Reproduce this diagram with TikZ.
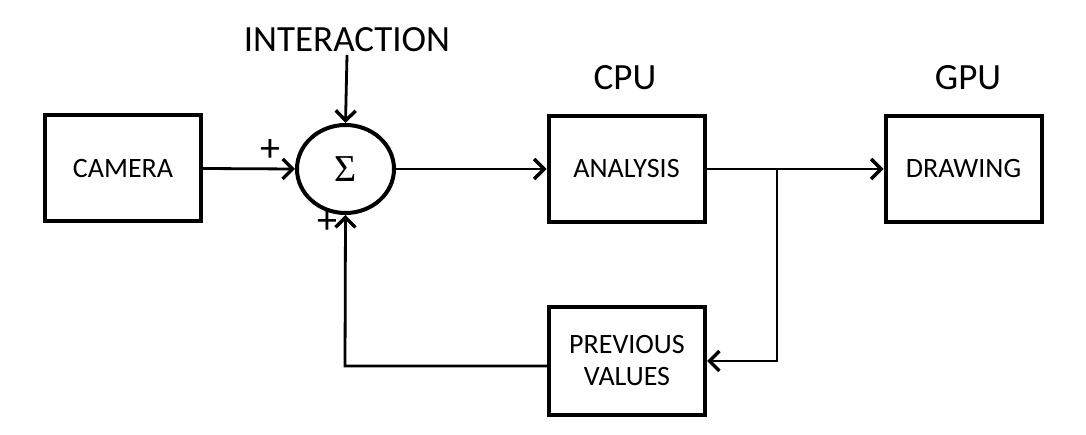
\documentclass[tikz,border=0pt]{standalone}
\usepackage{fontspec}
\setmainfont{Carlito}
\newfontfamily\sigmafont{Liberation Serif}
\usetikzlibrary{arrows.meta,shapes.geometric,calc}
\tikzset{
  blk/.style={draw, line width=4pt, minimum width=156pt, minimum height=106pt, align=center, font=\fontsize{28}{34}\selectfont, inner sep=0pt},
  conn/.style={line width=2.8pt, -{Straight Barb[length=10pt,width=20pt,line width=3.4pt]}},
  biglabel/.style={font=\fontsize{37}{40}\selectfont, inner sep=0pt},
  sign/.style={font=\fontsize{40}{40}\selectfont, inner sep=0pt}
}
\begin{document}
\begin{tikzpicture}[x=1pt,y=-1pt]
\useasboundingbox (0,0) rectangle (1086,435);
\node[blk] (cam) at (123,168.5) {CAMERA};
\node[draw, line width=4pt, ellipse, minimum width=97pt, minimum height=88pt, inner sep=0pt, font=\sigmafont\fontsize{38}{38}\selectfont] (sum) at (345.5,169) {Σ};
\node[blk] (ana) at (626.5,169) {ANALYSIS};
\node[blk] (drw) at (963.5,169) {DRAWING};
\node[blk, minimum height=108pt] (prev) at (627,361) {PREVIOUS\\[-2pt]VALUES};
\node[biglabel] (inter) at (347,40) {INTERACTION};
\node[biglabel] (cpu) at (625,78) {CPU};
\node[biglabel] (gpu) at (968,78) {GPU};
\node[sign] (p1) at (270,151) {+};
\node[sign] (p2) at (327,223) {+};
\coordinate (split) at (777,169);
\coordinate (fbcorner) at (345,366);
\draw[conn] (inter.south |- 0,55) -- (sum.north);
\draw[conn] (cam.east) -- (sum.west);
\draw[conn] (sum.east) -- (ana.west);
\draw[conn] (ana.east) -- (drw.west);
\draw[conn] (split) |- (prev.east);
\draw[conn] (prev.west |- fbcorner) -- (fbcorner) -- (sum.south);
\end{tikzpicture}
\end{document}
